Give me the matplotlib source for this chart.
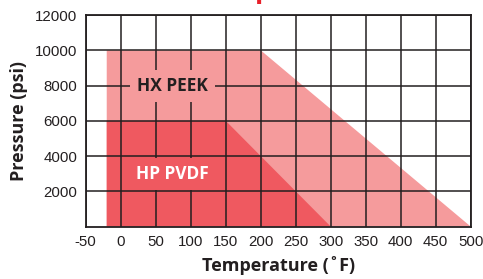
import matplotlib
matplotlib.use("Agg")
import matplotlib.pyplot as plt
import numpy as np

# operating envelopes (temperature in F, pressure in psi)
hx_temp = [-20, -20, 200, 500]
hx_pres = [0, 10000, 10000, 0]
pvdf_temp = [-20, -20, 150, 300]
pvdf_pres = [0, 6000, 6000, 0]

xticks = [-50, 0, 50, 100, 150, 200, 250, 300, 350, 400, 450, 500]
yticks = [2000, 4000, 6000, 8000, 10000, 12000]

light = "#f59b9c"
dark = "#ef5960"
grid = "#231f20"

fig = plt.figure(figsize=(4.83, 2.79), dpi=100)
ax = fig.add_axes([0.1775, 0.188, 0.797, 0.758])

ax.fill(hx_temp, hx_pres, color=light, lw=0, zorder=0)
ax.fill(pvdf_temp, pvdf_pres, color=dark, lw=0, zorder=0.5)

ax.set_xlim(-50, 500)
ax.set_ylim(0, 12000)
ax.set_xticks(xticks)
ax.set_yticks(yticks)
ax.set_xticklabels([str(t) for t in xticks], fontfamily="Liberation Sans", fontsize=10.8, color="#231f20")
ax.set_yticklabels([str(t) for t in yticks], fontfamily="Liberation Sans", fontsize=10.8, color="#231f20")
ax.tick_params(axis="x", length=0, pad=6)
ax.tick_params(axis="y", length=0, pad=6)
ax.grid(True, color=grid, lw=1.1, zorder=1)
ax.set_axisbelow(False)
for s in ax.spines.values():
    s.set_color(grid)
    s.set_linewidth(1.3)

ax.text(74, 8000, "HX PEEK", fontfamily="Open Sans", fontweight="bold", fontsize=12.5,
        color="#231f20", ha="center", va="center", zorder=3,
        bbox=dict(boxstyle="square,pad=0.4", fc=light, ec="none"))
ax.text(74, 3000, "HP PVDF", fontfamily="Open Sans", fontweight="bold", fontsize=12.5,
        color="white", ha="center", va="center", zorder=3,
        bbox=dict(boxstyle="square,pad=0.4", fc=dark, ec="none"))

ax.set_ylabel("Pressure (psi)", fontfamily="Open Sans", fontweight="bold", fontsize=13, color="#231f20", labelpad=5)
ax.set_xlabel("Temperature (\u02daF)", fontfamily="Open Sans", fontweight="bold", fontsize=13, color="#231f20", labelpad=5)

# clipped title remnant at the very top
fig.text(0.527, 1.009, "p", fontfamily="Open Sans", fontweight="bold", fontsize=20, color="#e8202a",
         ha="left", va="baseline")

fig.savefig("out.png", dpi=100)
